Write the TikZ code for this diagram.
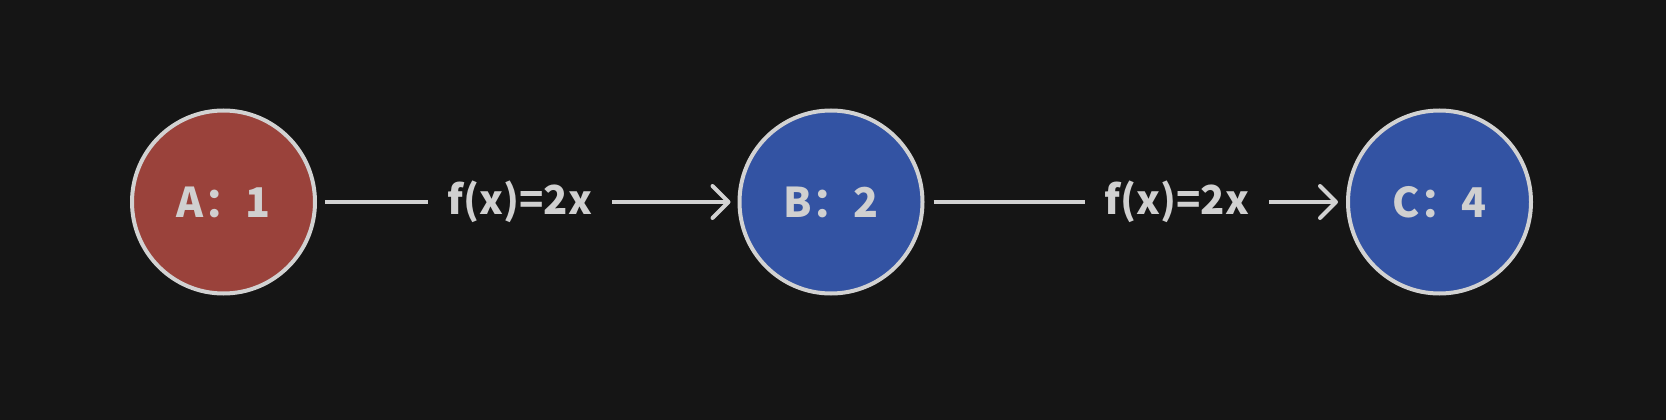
\documentclass[tikz,border=0pt]{standalone}
\usepackage{fontspec}
\setmainfont{Noto Sans CJK SC}
\usetikzlibrary{arrows.meta}
\definecolor{bgc}{HTML}{151515}
\definecolor{redc}{HTML}{9A423B}
\definecolor{bluec}{HTML}{3353A3}
\definecolor{edgec}{HTML}{D2D2D2}
\definecolor{txtc}{HTML}{D0D0D0}
\begin{document}
\begin{tikzpicture}[x=1pt,y=1pt,
  state/.style={circle, draw=edgec, line width=4pt, minimum size=183pt, inner sep=0pt,
    text=txtc, font=\fontsize{41}{50}\selectfont\bfseries},
  redstate/.style={state, fill=redc},
  bluestate/.style={state, fill=bluec},
  fnlabel/.style={text=txtc, inner sep=0pt, minimum width=184pt, minimum height=40pt,
    font=\fontsize{40}{50}\selectfont\bfseries},
  conn/.style={draw=edgec, line width=3.5pt},
  arr/.style={conn, -{Straight Barb[length=16pt, width=32pt, line width=4pt, round]}}
]
\fill[bgc] (0,0) rectangle (1666,-420);
\useasboundingbox (0,0) rectangle (1666,-420);
\node[redstate]  (A) at (223.5,-202) {A：1};
\node[bluestate] (B) at (831,-202) {B：2};
\node[bluestate] (C) at (1439.5,-202) {C：4};
\node[fnlabel] (f1) at (520,-202) {f(x)=2x};
\node[fnlabel] (f2) at (1177,-202) {f(x)=2x};
\draw[conn, shorten <=8pt] (A) -- (f1);
\draw[arr, shorten >=7pt] (f1) -- (B);
\draw[conn, shorten <=9pt] (B) -- (f2);
\draw[arr, shorten >=8pt] (f2) -- (C);
\end{tikzpicture}
\end{document}
